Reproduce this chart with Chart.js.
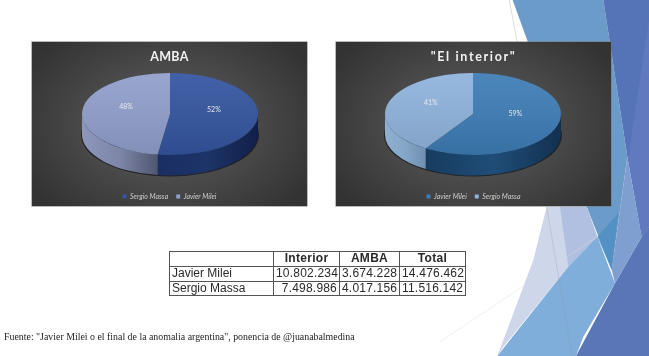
<!DOCTYPE html>
<html><head><meta charset="utf-8">
<script src="https://cdn.jsdelivr.net/npm/chart.js@4"></script>
<style>
html,body{margin:0;padding:0;background:#fff;width:649px;height:356px;overflow:hidden}
#bg{position:absolute;left:440px;top:0;width:209px;height:356px;filter:blur(.4px)}
.panel{position:absolute;top:42px;width:275px;height:164px;background:radial-gradient(ellipse 60% 70% at 50% 50%,#5c5c5c 0%,#4a4a4a 50%,#333 100%);filter:blur(.5px);box-shadow:0 0 0 .5px #777}
.panel canvas{display:block}
#p1{left:32px}#p2{left:336px}
table{position:absolute;left:169px;top:251px;border-collapse:collapse;font:12px "Liberation Sans",sans-serif;color:#2a2a2a;table-layout:fixed;width:296px;background:#fff;filter:blur(.35px)}
td,th{border:1px solid #555;padding:0 2px;height:13.8px;line-height:13px;white-space:nowrap;overflow:hidden}
th{font-weight:bold;text-align:center;letter-spacing:.3px}
td{text-align:right;letter-spacing:.2px}
td:first-child{text-align:left;letter-spacing:0}
#src{position:absolute;left:4px;top:331px;font:9.9px "Liberation Serif",serif;color:#222;white-space:nowrap;filter:blur(.25px)}
</style></head><body>
<svg id="bg" viewBox="0 0 627 1068" preserveAspectRatio="none">
<polygon points="218,0 490,0 562,470 515,810 440,620 265,130" fill="#6a9bc9"/>
<polygon points="490,0 627,0 627,680 605,710 562,470" fill="#5574b8"/>
<polygon points="627,60 627,680 605,710 565,470" fill="#6079bf"/>
<polygon points="320,620 440,620 472,710 385,800 190,1040 172,1068 280,780" fill="#ced6ea"/>
<polygon points="360,620 440,620 472,710 385,800" fill="#b1bfe0"/>
<polygon points="472,710 525,850 430,1010 408,1068 172,1068 385,800" fill="#7faeda"/>
<polygon points="605,710 627,680 627,1068 408,1068 525,850" fill="#5a76b6"/>
<polygon points="562,470 605,710 525,850 515,810" fill="#7f9fd1"/>
<polygon points="472,710 515,810 535,640" fill="#4d8fc4" opacity=".8"/>
<line x1="208" y1="0" x2="232" y2="130" stroke="#bbb" stroke-width="1.5"/>
<line x1="320" y1="620" x2="396" y2="1068" stroke="#8a93ab" stroke-width="1.2" opacity=".7"/>
<line x1="0" y1="1025" x2="472" y2="710" stroke="#ddd" stroke-width="1.5"/>
</svg>
<div id="p1" class="panel"><canvas id="c1" width="275" height="164"></canvas></div>
<div id="p2" class="panel"><canvas id="c2" width="275" height="164"></canvas></div>
<table id="t"></table>
<div id="src">Fuente: "Javier Milei o el final de la anomalia argentina", ponencia de @juanabalmedina</div>
<script>
const ambaLabels = ["Sergio Massa","Javier Milei"];
const ambaValues = [4017156,3674228];
const ambaPercent = ["52%","48%"];
const interiorLabels = ["Javier Milei","Sergio Massa"];
const interiorValues = [10802234,7498986];
const interiorPercent = ["59%","41%"];
const tableHead = ["","Interior","AMBA","Total"];
const tableRows = [["Javier Milei","10.802.234","3.674.228","14.476.462"],["Sergio Massa","7.498.986","4.017.156","11.516.142"]];

const widths=[104,66,60,66];
document.getElementById('t').innerHTML =
 '<colgroup>'+widths.map(w=>`<col style="width:${w}px">`).join('')+'</colgroup>'+
 '<tr>'+tableHead.map(h=>`<th>${h}</th>`).join('')+'</tr>'+
 tableRows.map(r=>'<tr>'+r.map(c=>`<td>${c}</td>`).join('')+'</tr>').join('');

const RX=88,RY=41,DEPTH=20.5,TARGET_Y=72,SHIFT=-6;

function tiltPlugin(walls,pct){return {
 id:'tilt',
 beforeDatasetsDraw(chart){
  const ctx=chart.ctx,arcs=chart.getDatasetMeta(0).data;
  const a0=arcs[0],r=a0.outerRadius,cx=a0.x,cy=a0.y,tx=chart.width/2+(walls.dx||0);
  const sx=RX/r,sy=RY/r;
  chart.$t={cx,cy,tx,sx,sy,r};
  ctx.save();
  ctx.beginPath();ctx.ellipse(tx,TARGET_Y+DEPTH+.5,RX+1,RY+.5,0,0,Math.PI*2);
  ctx.fillStyle='rgba(0,0,0,.55)';ctx.fill();
  arcs.forEach((a,i)=>{
   const segs=[[Math.max(a.startAngle,0),Math.min(a.endAngle,Math.PI)],[Math.max(a.startAngle,2*Math.PI),Math.min(a.endAngle,3*Math.PI)]];
   segs.forEach(([b,e])=>{
    if(e<=b)return;
    ctx.beginPath();
    ctx.ellipse(tx,TARGET_Y,RX,RY,0,b,e);
    ctx.ellipse(tx,TARGET_Y+DEPTH,RX,RY,0,e,b,true);
    ctx.closePath();
    const x1=tx+RX*Math.cos(e),x2=tx+RX*Math.cos(b);
    const g=ctx.createLinearGradient(x1,0,x2,0);
    walls.colors[i].forEach((c,k,l)=>g.addColorStop(k/(l.length-1),c));
    ctx.fillStyle=g;ctx.fill();
   });
  });
  ctx.translate(tx,TARGET_Y);ctx.scale(sx,sy);ctx.translate(-cx,-cy);
 },
 afterDatasetsDraw(chart){
  const ctx=chart.ctx,t=chart.$t,arcs=chart.getDatasetMeta(0).data;
  ctx.restore();
  ctx.save();
  ctx.beginPath();ctx.ellipse(t.tx,TARGET_Y,RX,RY,0,0,Math.PI*2);
  const g=ctx.createLinearGradient(0,TARGET_Y-RY,0,TARGET_Y+RY);
  g.addColorStop(0,'rgba(255,255,255,.07)');g.addColorStop(1,'rgba(0,0,0,.1)');
  ctx.fillStyle=g;ctx.fill();
  ctx.font='7px Lato';ctx.fillStyle='#e8e8e8';ctx.textAlign='center';ctx.textBaseline='middle';ctx.letterSpacing='0px';
  arcs.forEach((a,i)=>{
   const m=(a.startAngle+a.endAngle)/2;
   ctx.fillText(pct[i],t.tx+RX*.5*Math.cos(m),TARGET_Y+RY*.5*Math.sin(m)+SHIFT);
  });
  ctx.restore();
 }
}}

function make(id,title,labels,values,colors,wallColors,pct,dx,spacing){
 const el=document.getElementById(id);
 const titleSpacing={id:'sp',
  beforeDraw(ch){
   if(ch.$wrapped)return;
   ch.$wrapped=true;
   const tb=ch.titleBlock,d=tb.draw;
   tb.draw=function(){ch.ctx.letterSpacing=spacing+'px';d.apply(this,arguments);ch.ctx.letterSpacing='0px';};
  }};
 new Chart(el,{type:'pie',
  data:{labels,datasets:[{data:values,backgroundColor:colors,borderWidth:0}]},
  options:{responsive:false,animation:false,
   layout:{padding:{top:5,bottom:-4}},
   plugins:{tooltip:{enabled:false},
    title:{display:true,text:title,color:'#f2f2f2',font:{family:'Lato',size:12.5,weight:'bold'},padding:{top:2,bottom:4}},
    legend:{position:'bottom',labels:{color:'#cfcfcf',boxWidth:4,boxHeight:4,padding:8,font:{family:'Lato',size:7,style:'italic'}}}}},
  plugins:[titleSpacing,tiltPlugin({colors:wallColors,dx},pct)]});
}
make('c1','AMBA',ambaLabels,ambaValues,['#33549f','#909fcc'],
 [['#1a2e63','#1d3468','#111f48'],['#8d97bd','#7d86a8','#4f5670']],ambaPercent,0.5,0.3);
make('c2','"El interior"',interiorLabels,interiorValues,['#3d7cb5','#8fb3dc'],
 [['#173c5f','#1f4d78','#12304f'],['#8fb0d0','#86a6c8','#6f8fb0']],interiorPercent,-0.5,1.65);
</script>
</body></html>
